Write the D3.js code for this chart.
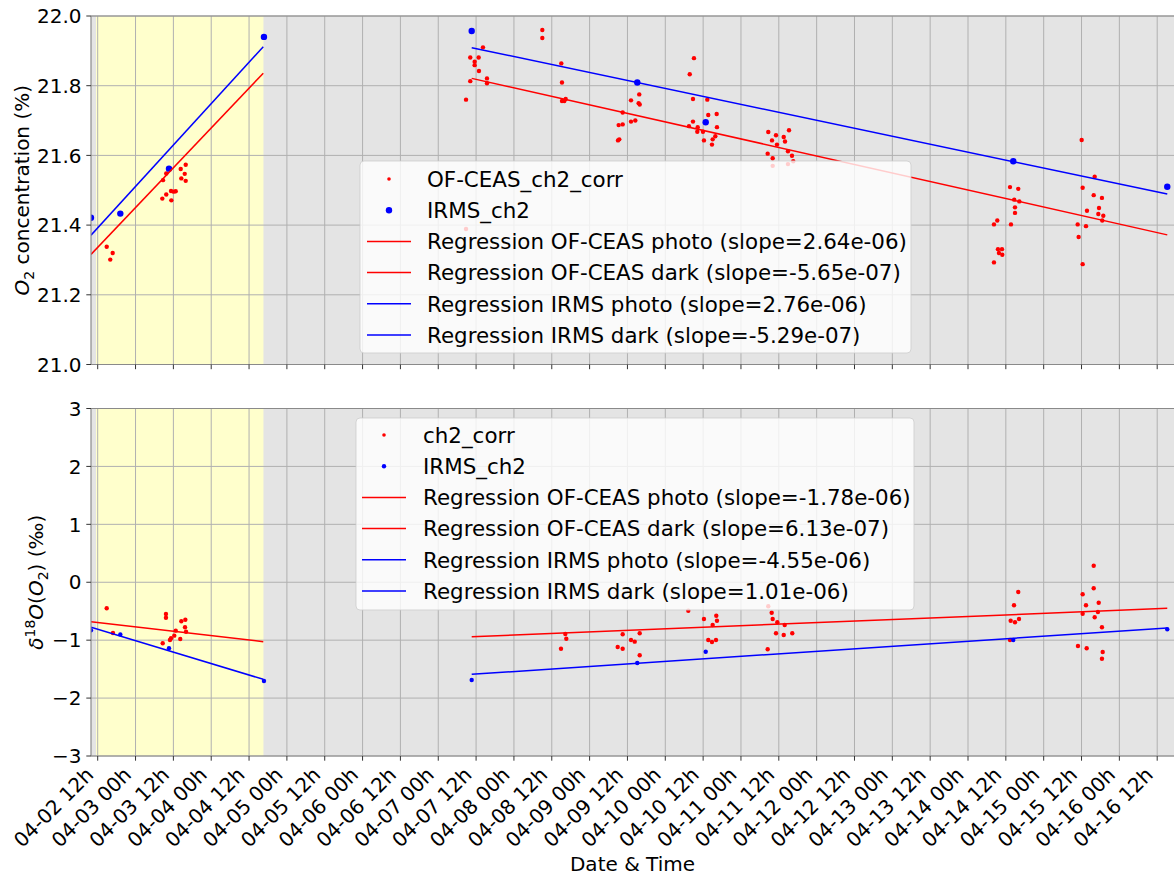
<!DOCTYPE html>
<html>
<head>
<meta charset="utf-8">
<script src="https://cdn.jsdelivr.net/npm/d3@7"></script>
<style>
    body { margin: 0; background: #fff; }
    text { font-family: "DejaVu Sans", sans-serif; fill: #000; }
</style>
</head>
<body>
<div id="chart"></div>
<script>
// x axis limits and photo period, in fractional days of April
const xLimits = [2.4115, 16.722];
const photoPeriod = [2.478, 4.69];

// OF-CEAS O2 concentration (%) : [day, value]
const o2Ceas = [
    [2.619, 21.338], [2.698, 21.320], [2.666, 21.301],
    [3.354, 21.476], [3.363, 21.529], [3.406, 21.488], [3.406, 21.548], [3.469, 21.498], [3.473, 21.471],
    [3.504, 21.496], [3.531, 21.497], [3.597, 21.561], [3.663, 21.573], [3.650, 21.547], [3.605, 21.534], [3.663, 21.527],
    [7.367, 21.760], [7.367, 21.389], [7.423, 21.881], [7.423, 21.813], [7.481, 21.869], [7.481, 21.859],
    [7.534, 21.881], [7.538, 21.842], [7.591, 21.910], [7.644, 21.821], [7.644, 21.807],
    [8.375, 21.960], [8.375, 21.937], [8.626, 21.864], [8.635, 21.809], [8.635, 21.756], [8.666, 21.756], [8.684, 21.762],
    [9.384, 21.687], [9.437, 21.689], [9.375, 21.643], [9.392, 21.646], [9.437, 21.723], [9.547, 21.758],
    [9.547, 21.697], [9.604, 21.700], [9.656, 21.775], [9.648, 21.750], [9.662, 21.746],
    [10.323, 21.833], [10.379, 21.879], [10.366, 21.762], [10.313, 21.684], [10.366, 21.697], [10.428, 21.681],
    [10.423, 21.668], [10.498, 21.668], [10.511, 21.643], [10.555, 21.760], [10.568, 21.716], [10.679, 21.719],
    [10.683, 21.681], [10.661, 21.655], [10.626, 21.646], [10.617, 21.631],
    [11.361, 21.667], [11.353, 21.605], [11.463, 21.658], [11.635, 21.672], [11.410, 21.643], [11.565, 21.653],
    [11.582, 21.640], [11.476, 21.631], [11.621, 21.612], [11.419, 21.592], [11.674, 21.599], [11.691, 21.583],
    [11.419, 21.570], [11.621, 21.575],
    [14.555, 21.509], [14.664, 21.504], [14.611, 21.473], [14.678, 21.468], [14.621, 21.451], [14.621, 21.435],
    [14.387, 21.413], [14.343, 21.402], [14.568, 21.402], [14.396, 21.331], [14.449, 21.331], [14.409, 21.320],
    [14.453, 21.315], [14.343, 21.293],
    [15.502, 21.644], [15.674, 21.539], [15.515, 21.507], [15.661, 21.486], [15.770, 21.478], [15.731, 21.449],
    [15.572, 21.441], [15.722, 21.432], [15.788, 21.427], [15.774, 21.413], [15.449, 21.402], [15.559, 21.397],
    [15.462, 21.366], [15.515, 21.288]
];

// OF-CEAS delta 18O (permil) : [day, value]
const d18Ceas = [
    [2.619, -0.45], [2.702, -0.876], [3.402, -0.548], [3.402, -0.612], [3.359, -1.054], [3.455, -0.997],
    [3.469, -0.968], [3.512, -0.922], [3.531, -0.836], [3.591, -0.980], [3.605, -0.674], [3.658, -0.647],
    [3.654, -0.778], [3.667, -0.854],
    [8.679, -0.894], [8.692, -0.975], [8.622, -1.147],
    [9.437, -0.899], [9.371, -1.118], [9.437, -1.147], [9.547, -0.997], [9.596, -1.026], [9.662, -0.881], [9.662, -1.261],
    [10.511, -0.635], [10.626, -0.738], [10.674, -0.578], [10.683, -0.664], [10.568, -0.997], [10.617, -1.032],
    [10.670, -0.997], [10.304, -0.491],
    [11.361, -0.415], [11.406, -0.526], [11.419, -0.634], [11.480, -0.691], [11.578, -0.738], [11.463, -0.881],
    [11.565, -0.911], [11.678, -0.881], [11.353, -1.158],
    [14.664, -0.168], [14.608, -0.398], [14.564, -0.664], [14.621, -0.691], [14.674, -0.634], [14.555, -0.997],
    [15.661, 0.286], [15.515, -0.208], [15.661, -0.104], [15.559, -0.398], [15.727, -0.353], [15.515, -0.543],
    [15.717, -0.514], [15.674, -0.605], [15.770, -0.778], [15.453, -1.101], [15.568, -1.140], [15.780, -1.204],
    [15.770, -1.320]
];

// IRMS samples
const irmsDays = [2.411, 2.799, 3.442, 4.697, 7.442, 9.630, 10.534, 14.598, 16.633];
const irmsO2 = [21.421, 21.433, 21.562, 21.940, 21.957, 21.809, 21.695, 21.583, 21.510];
const irmsD18 = [-0.83, -0.90, -1.14, -1.705, -1.688, -1.394, -1.20, -0.997, -0.812];

// regression lines: OF-CEAS photo, OF-CEAS dark, IRMS photo, IRMS dark
const o2Fits = [
    [[2.4115, 21.316], [4.688, 21.836]],
    [[7.442, 21.821], [16.633, 21.372]],
    [[2.4115, 21.371], [4.688, 21.912]],
    [[7.442, 21.909], [16.633, 21.489]]
];
const d18Fits = [
    [[2.4115, -0.68], [4.688, -1.026]],
    [[7.442, -0.94], [16.633, -0.45]],
    [[2.4115, -0.778], [4.688, -1.676]],
    [[7.442, -1.59], [16.633, -0.79]]
];

const o2Legend = ["OF-CEAS_ch2_corr", "IRMS_ch2",
    "Regression OF-CEAS photo (slope=2.64e-06)", "Regression OF-CEAS dark (slope=-5.65e-07)",
    "Regression IRMS photo (slope=2.76e-06)", "Regression IRMS dark (slope=-5.29e-07)"];
const d18Legend = ["ch2_corr", "IRMS_ch2",
    "Regression OF-CEAS photo (slope=-1.78e-06)", "Regression OF-CEAS dark (slope=6.13e-07)",
    "Regression IRMS photo (slope=-4.55e-06)", "Regression IRMS dark (slope=1.01e-06)"];

const o2Ticks = [21.0, 21.2, 21.4, 21.6, 21.8, 22.0];
const d18Ticks = [-3, -2, -1, 0, 1, 2, 3];

/*
SVG + SCALES
*/
const width = 1174, height = 878;
const left = 91, right = 1174;

const svg = d3.select("#chart").append("svg")
    .attr("width", width)
    .attr("height", height);

const toDate = d => new Date(Date.UTC(2024, 3, 1) + (d - 1) * 864e5);

const xScale = d3.scaleUtc()
    .domain(xLimits.map(toDate))
    .range([left, right]);

const xTicks = d3.utcHour.every(12).range(toDate(2.5), toDate(16.6));
const xFormat = d3.utcFormat("%m-%d %Hh");

const fitColors = ["red", "red", "blue", "blue"];

function drawPanel(p) {
    const yScale = d3.scaleLinear().domain(p.domain).range([p.bottom, p.top]);
    const g = svg.append("g");

    const clipId = "clip" + p.id;
    svg.append("clipPath").attr("id", clipId)
        .append("rect")
        .attr("x", left).attr("y", p.top)
        .attr("width", right - left).attr("height", p.bottom - p.top);

    // backgrounds
    g.append("rect")
        .attr("x", left).attr("y", p.top)
        .attr("width", right - left).attr("height", p.bottom - p.top)
        .attr("fill", "#e4e4e4");
    g.append("rect")
        .attr("x", xScale(toDate(photoPeriod[0]))).attr("y", p.top)
        .attr("width", xScale(toDate(photoPeriod[1])) - xScale(toDate(photoPeriod[0])))
        .attr("height", p.bottom - p.top)
        .attr("fill", "#ffffcc");

    // grid
    g.selectAll(".vgrid").data(xTicks).enter().append("line")
        .attr("x1", d => xScale(d)).attr("x2", d => xScale(d))
        .attr("y1", p.top).attr("y2", p.bottom)
        .attr("stroke", "#b0b0b0").attr("stroke-width", 1);
    g.selectAll(".hgrid").data(p.ticks).enter().append("line")
        .attr("x1", left).attr("x2", right)
        .attr("y1", d => yScale(d)).attr("y2", d => yScale(d))
        .attr("stroke", "#b0b0b0").attr("stroke-width", 1);

    // data
    const plot = g.append("g").attr("clip-path", `url(#${clipId})`);
    plot.selectAll(".ceas").data(p.ceas).enter().append("circle")
        .attr("cx", d => xScale(toDate(d[0])))
        .attr("cy", d => yScale(d[1]))
        .attr("r", 2.2)
        .attr("fill", "red");
    plot.selectAll(".irms").data(irmsDays).enter().append("circle")
        .attr("cx", d => xScale(toDate(d)))
        .attr("cy", (d, i) => yScale(p.irms[i]))
        .attr("r", p.irmsR)
        .attr("fill", "blue");

    const line = d3.line()
        .x(d => xScale(toDate(d[0])))
        .y(d => yScale(d[1]));
    plot.selectAll(".fit").data(p.fits).enter().append("path")
        .attr("d", line)
        .attr("fill", "none")
        .attr("stroke", (d, i) => fitColors[i])
        .attr("stroke-width", 1.5);

    // spines
    g.append("line").attr("x1", left).attr("x2", left).attr("y1", p.top).attr("y2", p.bottom)
        .attr("stroke", "#8a8a8a").attr("stroke-width", 1.2);
    g.append("line").attr("x1", left).attr("x2", right).attr("y1", p.top).attr("y2", p.top)
        .attr("stroke", "#8a8a8a").attr("stroke-width", 1.2);
    g.append("line").attr("x1", left).attr("x2", right).attr("y1", p.bottom).attr("y2", p.bottom)
        .attr("stroke", "#8a8a8a").attr("stroke-width", 1.2);

    // tick marks
    g.selectAll(".xtick").data(xTicks).enter().append("line")
        .attr("x1", d => xScale(d)).attr("x2", d => xScale(d))
        .attr("y1", p.bottom).attr("y2", p.bottom + 4.7)
        .attr("stroke", "#333").attr("stroke-width", 1);
    g.selectAll(".ytick").data(p.ticks).enter().append("line")
        .attr("x1", left - 4.7).attr("x2", left)
        .attr("y1", d => yScale(d)).attr("y2", d => yScale(d))
        .attr("stroke", "#333").attr("stroke-width", 1);
    g.selectAll(".ylab").data(p.ticks).enter().append("text")
        .attr("x", left - 9.5)
        .attr("y", d => yScale(d))
        .attr("dy", "0.36em")
        .attr("text-anchor", "end")
        .style("font-size", "20px")
        .text(p.format);

    if (p.showX) {
        g.selectAll(".xlab").data(xTicks).enter().append("text")
            .attr("transform", d => `translate(${xScale(d) - 3},${p.bottom + 20}) rotate(-45)`)
            .attr("text-anchor", "end")
            .style("font-size", "20px")
            .text(d => xFormat(d));
    }

    // y label
    p.ylabel(g.append("text")
        .attr("transform", `translate(${p.ylabelX},${(p.top + p.bottom) / 2}) rotate(-90)`)
        .attr("text-anchor", "middle")
        .style("font-size", "20px"));

    // legend
    const L = p.legend;
    const lg = svg.append("g");
    lg.append("rect")
        .attr("x", L.x).attr("y", L.y)
        .attr("width", L.w).attr("height", L.h)
        .attr("rx", 4)
        .attr("fill", "white").attr("fill-opacity", 0.8)
        .attr("stroke", "#cccccc").attr("stroke-opacity", 0.8);
    p.labels.forEach((label, i) => {
        const cy = L.y + L.first + i * L.step;
        if (i === 0) {
            lg.append("circle").attr("cx", L.hx + 22).attr("cy", cy).attr("r", 1.8).attr("fill", "red");
        } else if (i === 1) {
            lg.append("circle").attr("cx", L.hx + 22).attr("cy", cy).attr("r", p.irmsR).attr("fill", "blue");
        } else {
            lg.append("line")
                .attr("x1", L.hx).attr("x2", L.hx + 44)
                .attr("y1", cy).attr("y2", cy)
                .attr("stroke", fitColors[i - 2]).attr("stroke-width", 1.5);
        }
        lg.append("text")
            .attr("x", L.tx).attr("y", cy)
            .attr("dy", "0.36em")
            .style("font-size", "21.4px")
            .text(label);
    });
}

drawPanel({
    id: 1, top: 16, bottom: 364.5, domain: [21, 22],
    ticks: o2Ticks, format: d3.format(".1f"),
    ceas: o2Ceas, irms: irmsO2, irmsR: 3.2, fits: o2Fits,
    labels: o2Legend, showX: false,
    legend: { x: 360, y: 161, w: 551, h: 192, first: 18, step: 31.2, hx: 367, tx: 427 },
    ylabelX: 28.5,
    ylabel: t => {
        t.append("tspan").style("font-style", "italic").text("O");
        t.append("tspan").attr("dy", 5).style("font-size", "14px").text("2");
        t.append("tspan").attr("dy", -5).text(" concentration (%)");
    }
});

drawPanel({
    id: 2, top: 408.5, bottom: 756, domain: [-3, 3],
    ticks: d18Ticks, format: d3.format("d"),
    ceas: d18Ceas, irms: irmsD18, irmsR: 2.2, fits: d18Fits,
    labels: d18Legend, showX: true,
    legend: { x: 356, y: 418, w: 558, h: 192, first: 17, step: 31.2, hx: 362, tx: 423 },
    ylabelX: 43,
    ylabel: t => {
        t.append("tspan").style("font-style", "italic").text("δ");
        t.append("tspan").attr("dy", -8).style("font-size", "14px").text("18");
        t.append("tspan").attr("dy", 8).style("font-style", "italic").text("O");
        t.append("tspan").text("(");
        t.append("tspan").style("font-style", "italic").text("O");
        t.append("tspan").attr("dy", 5).style("font-size", "14px").text("2");
        t.append("tspan").attr("dy", -5).text(") (‰)");
    }
});

svg.append("text")
    .attr("x", (left + right) / 2)
    .attr("y", 871)
    .attr("text-anchor", "middle")
    .style("font-size", "20px")
    .text("Date & Time");
</script>
</body>
</html>
